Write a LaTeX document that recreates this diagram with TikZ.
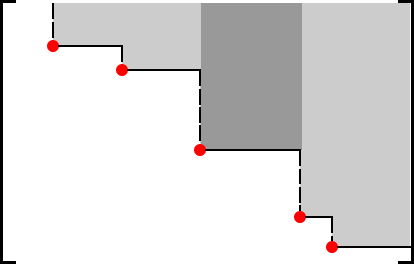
\documentclass[tikz,border=0pt]{standalone}
\usetikzlibrary{positioning}
\definecolor{lightshade}{RGB}{204,204,204}
\definecolor{darkshade}{RGB}{153,153,153}

\begin{document}
\begin{tikzpicture}[x=0.02cm, y=-0.02cm,
    pivot/.style={circle, fill=red, inner sep=0pt, minimum size=0.24cm},
    stair/.style={draw, line width=0.046cm, line cap=rect},
    drop/.style={draw, line width=0.046cm, dash pattern=on 0.32cm off 0.05cm},
    bracket/.style={draw, line width=0.055cm}]
    \useasboundingbox (0,0) rectangle (414,265);

    % shaded entries
    \fill [lightshade] (53,3) -- (410,3) -- (410,247) -- (332,247) -- (332,217) -- (300,217)
        -- (300,150) -- (200,150) -- (200,70) -- (122,70) -- (122,46) -- (53,46) -- cycle;
    \fill [darkshade] (201,3) rectangle (302,150);

    % brackets
    \path [bracket] (16,1.2) -- (1.3,1.2) -- (1.3,262.5) -- (16,262.5);
    \path [bracket] (398,1.2) -- (412.7,1.2) -- (412.7,262.5) -- (398,262.5);

    \coordinate (top) at (53,3);
    \coordinate (end) at (410,247);
    \node [pivot] (p1) at (53,46) {};
    \node [pivot] (p2) at (122,70) {};
    \node [pivot] (p3) at (200,150) {};
    \node [pivot] (p4) at (300,217) {};
    \node [pivot] (p5) at (332,247) {};
    \coordinate (c2) at (p1 -| p2);
    \coordinate (c3) at (p2 -| p3);
    \coordinate (c4) at (p3 -| p4);
    \coordinate (c5) at (p4 -| p5);

    \path [drop] (top) -- (p1);
    \path [stair] (p1) -- (c2);
    \path [drop] (c2) -- (p2);
    \path [stair] (p2) -- (c3);
    \path [drop] (c3) -- (p3);
    \path [stair] (p3) -- (c4);
    \path [drop] (c4) -- (p4);
    \path [stair] (p4) -- (c5);
    \path [drop] (c5) -- (p5);
    \path [stair] (p5) -- (end);
\end{tikzpicture}
\end{document}
